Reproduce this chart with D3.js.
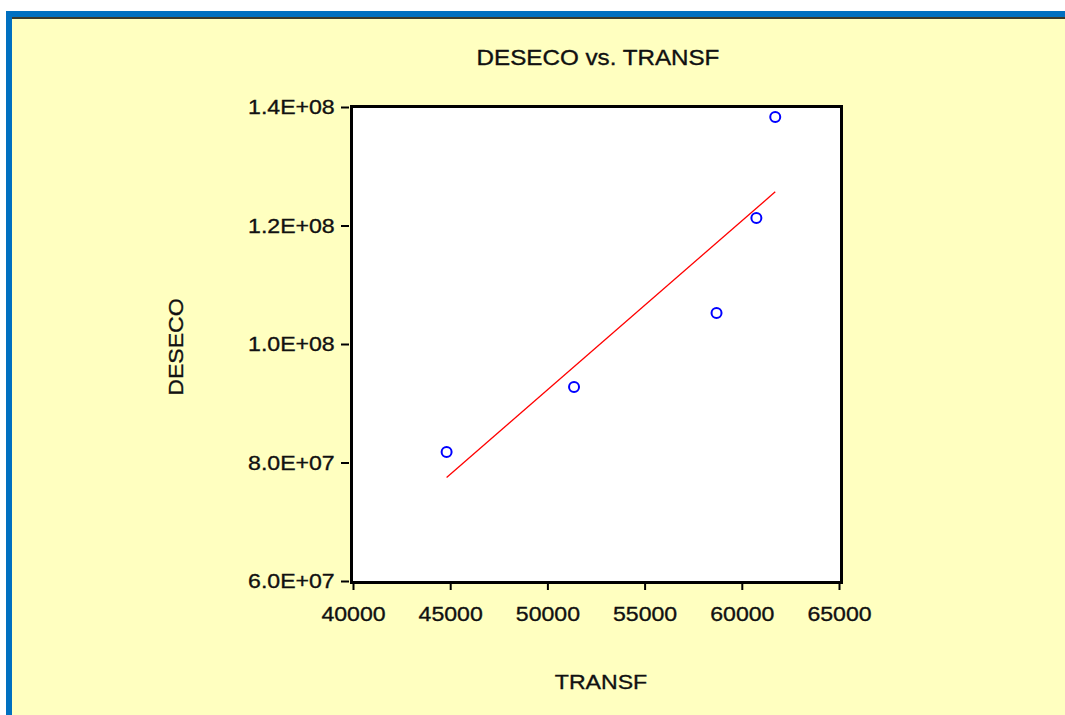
<!DOCTYPE html>
<html><head><meta charset="utf-8">
<script src="https://cdn.jsdelivr.net/npm/d3@7"></script>
<style>
html,body{margin:0;padding:0;background:#fff;}
svg{display:block;}
text{font-family:"Liberation Sans",Arial,sans-serif;fill:#111;stroke:#111;stroke-width:0.35px;}
</style></head><body>
<svg id="c" width="1065" height="715"></svg>
<script>
const title = "DESECO vs. TRANSF";
const xLabel = "TRANSF";
const yLabel = "DESECO";
const transf = [44815, 51370, 58700, 60750, 61720];
const deseco = [81.77e6, 92.74e6, 105.23e6, 121.27e6, 138.3e6];
const xTicks = [40000, 45000, 50000, 55000, 60000, 65000];
const yTicks = [6e7, 8e7, 1e8, 1.2e8, 1.4e8];
const yTickLabels = ["6.0E+07", "8.0E+07", "1.0E+08", "1.2E+08", "1.4E+08"];

const svg = d3.select("#c");
// frame
svg.append("rect").attr("x",0).attr("y",0).attr("width",1065).attr("height",715).attr("fill","#fff");
svg.append("rect").attr("x",6).attr("y",11).attr("width",1059).attr("height",704).attr("fill","#0070C0");
svg.append("rect").attr("x",12).attr("y",17).attr("width",1053).attr("height",698).attr("fill","#FFFFC0");
svg.append("rect").attr("x",12).attr("y",17).attr("width",1053).attr("height",2).attr("fill","#3a3a2a");

const x = d3.scaleLinear().domain([40000, 65000]).range([353, 839]);
const y = d3.scaleLinear().domain([6e7, 1.4e8]).range([581, 107]);

const SX = 1.1;
// plot area
svg.append("rect").attr("x",351.5).attr("y",106.5).attr("width",490).attr("height",476)
  .attr("fill","#fff").attr("stroke","#000").attr("stroke-width",3);

// axes
const xAxis = svg.append("g").attr("transform","translate(0,584)")
  .call(d3.axisBottom(x).tickValues(xTicks).tickFormat(d3.format("d")).tickSize(6).tickPadding(16));
const yAxis = svg.append("g").attr("transform","translate(349,0)")
  .call(d3.axisLeft(y).tickValues(yTicks).tickFormat((d,i)=>yTickLabels[i]).tickSize(8).tickPadding(5));
[xAxis, yAxis].forEach(a=>{
  a.select(".domain").remove();
  a.selectAll(".tick line").attr("stroke","#000").attr("stroke-width",2);
  a.selectAll(".tick text").style("font-size","21px").attr("fill","#111")
    .attr("font-family","Liberation Sans, Arial, sans-serif");
});
xAxis.selectAll(".tick text").attr("transform",`scale(${SX},1)`);
yAxis.selectAll(".tick text").attr("transform",`scale(${SX},1)`);

// regression line (least squares)
const mx = d3.mean(transf), my = d3.mean(deseco);
const slope = d3.sum(transf.map((v,i)=>(v-mx)*(deseco[i]-my))) / d3.sum(transf.map(v=>(v-mx)*(v-mx)));
const icpt = my - slope*mx;
const [x0, x1] = d3.extent(transf);
svg.append("line").attr("x1",x(x0)).attr("y1",y(icpt+slope*x0)).attr("x2",x(x1)).attr("y2",y(icpt+slope*x1))
  .attr("stroke","#FF0000").attr("stroke-width",1.3);

// points
svg.append("g").selectAll("circle").data(transf).join("circle")
  .attr("cx",(d)=>x(d)).attr("cy",(d,i)=>y(deseco[i])).attr("r",5)
  .attr("fill","none").attr("stroke","#0000FF").attr("stroke-width",2);

// titles
function label(txt, tx, ty, rot, fs){
  svg.append("text").attr("transform",`translate(${tx},${ty}) rotate(${rot||0}) scale(${SX},1)`)
    .attr("text-anchor","middle").attr("dominant-baseline","central").style("font-size",(fs||21)+"px").text(txt);
}
label(title, 598, 57, 0, 22);
label(xLabel, 601, 682);
label(yLabel, 176, 347, -90);
</script>
</body></html>
